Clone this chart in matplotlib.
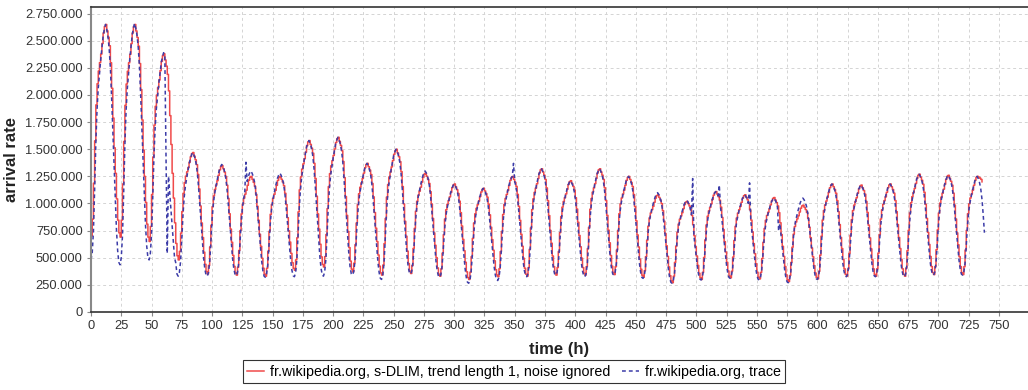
import numpy as np
import matplotlib
matplotlib.use('Agg')
import matplotlib.pyplot as plt
from matplotlib.ticker import FuncFormatter, MultipleLocator

plt.rcParams['font.family'] = ['Liberation Sans', 'DejaVu Sans']

# daily troughs (at t = 24*k) and daily peaks (around t = 24*k + 12)
red_troughs = [700000, 690000, 650000, 480000, 350000, 340000, 330000, 385000,
               415000, 370000, 340000, 355000, 330000, 300000, 325000, 330000,
               340000, 340000, 345000, 320000, 270000, 300000, 315000, 305000,
               280000, 305000, 330000, 330000, 330000, 345000, 345000, 970000]
blue_troughs = [480000, 435000, 480000, 330000, 330000, 335000, 320000, 325000,
                330000, 340000, 300000, 350000, 320000, 265000, 290000, 325000,
                340000, 325000, 340000, 310000, 265000, 295000, 310000, 295000,
                270000, 300000, 325000, 325000, 325000, 340000, 340000, 70000]
red_peaks = [2650000, 2650000, 2380000, 1470000, 1350000, 1250000, 1250000, 1580000,
             1610000, 1370000, 1500000, 1280000, 1180000, 1140000, 1250000, 1320000,
             1210000, 1320000, 1250000, 1080000, 1020000, 1110000, 1080000, 1055000,
             985000, 1180000, 1170000, 1180000, 1270000, 1260000, 1250000]
blue_peaks = [2650000, 2660000, 2390000, 1470000, 1360000, 1300000, 1280000, 1580000,
              1610000, 1370000, 1500000, 1300000, 1180000, 1140000, 1250000, 1320000,
              1210000, 1320000, 1250000, 1100000, 1030000, 1110000, 1080000, 1050000,
              1050000, 1180000, 1170000, 1180000, 1270000, 1260000, 1250000]

# hourly shape of one day (0 = trough, 1 = peak)
red_shape = [0.0, 0.08, 0.25, 0.45, 0.62, 0.72, 0.78, 0.82, 0.86, 0.91, 0.96, 0.99,
             1.0, 0.97, 0.94, 0.9, 0.82, 0.7, 0.56, 0.42, 0.3, 0.18, 0.08, 0.02]
blue_shape = [0.0, 0.03, 0.12, 0.3, 0.5, 0.64, 0.73, 0.79, 0.85, 0.9, 0.95, 0.98,
              1.0, 0.98, 0.95, 0.9, 0.82, 0.7, 0.56, 0.42, 0.28, 0.15, 0.06, 0.01]

# single hours where the trace departs from the daily pattern
blue_fixes = {62: 1400000, 63: 540000, 64: 1250000, 65: 1100000, 66: 950000,
              67: 800000, 68: 650000, 69: 500000, 128: 1380000, 349: 1370000,
              497: 1230000, 519: 1170000, 544: 1190000, 568: 750000}


def build(troughs, peaks, shape, n):
    vals = []
    for d, peak in enumerate(peaks):
        for h, s in enumerate(shape):
            base = troughs[d] if h < 12 else troughs[d + 1]
            vals.append(base + (peak - base) * s)
    return np.array(vals[:n], dtype=float)


red = build(red_troughs, red_peaks, red_shape, 737)
blue = build(blue_troughs, blue_peaks, blue_shape, 739)
for t, v in blue_fixes.items():
    blue[t] = v

fig = plt.figure(figsize=(10.28, 3.9), dpi=100)
ax = fig.add_axes([91 / 1028, 78 / 390, 1 - 91 / 1028, 305 / 390])

ax.plot(np.arange(len(red)), red, color='#f04a4a', lw=1.1, drawstyle='steps-post',
        label='fr.wikipedia.org, s-DLIM, trend length 1, noise ignored')
ax.plot(np.arange(len(blue)), blue, color='#3c3ca8', lw=1.1, ls=(0, (2.5, 2)),
        label='fr.wikipedia.org, trace')

ax.set_xlim(0, 774)
ax.set_ylim(0, 2811000)
ax.xaxis.set_major_locator(MultipleLocator(25))
ax.yaxis.set_major_locator(MultipleLocator(250000))
ax.yaxis.set_major_formatter(FuncFormatter(lambda v, p: f'{int(round(v)):,}'.replace(',', '.')))
ax.grid(True, color='#d4d4d4', ls=(0, (3, 3)), lw=0.7)
ax.set_axisbelow(True)
ax.tick_params(labelsize=9.3, length=3, color='#888888', labelcolor='#333333', pad=3)

for s in ['top', 'bottom']:
    ax.spines[s].set_color('#333333')
    ax.spines[s].set_linewidth(1.2)
ax.spines['left'].set_color('#888888')
ax.spines['left'].set_linewidth(1.5)
ax.spines['right'].set_visible(False)

ax.set_xlabel('time (h)', fontsize=12, fontweight='bold', labelpad=7, color='#222222')
ax.set_ylabel('arrival rate', fontsize=12, fontweight='bold', color='#222222')
ax.yaxis.set_label_coords(-0.077, 0.5)

leg = fig.legend(loc='lower center', bbox_to_anchor=(0.5, 0.0), ncol=2, fontsize=10.3,
                 frameon=True, fancybox=False, handlelength=1.2, handletextpad=0.4,
                 columnspacing=0.8, borderpad=0.3)
leg.get_frame().set_edgecolor('#000000')
leg.get_frame().set_linewidth(0.8)

fig.savefig('out.png', dpi=100)
